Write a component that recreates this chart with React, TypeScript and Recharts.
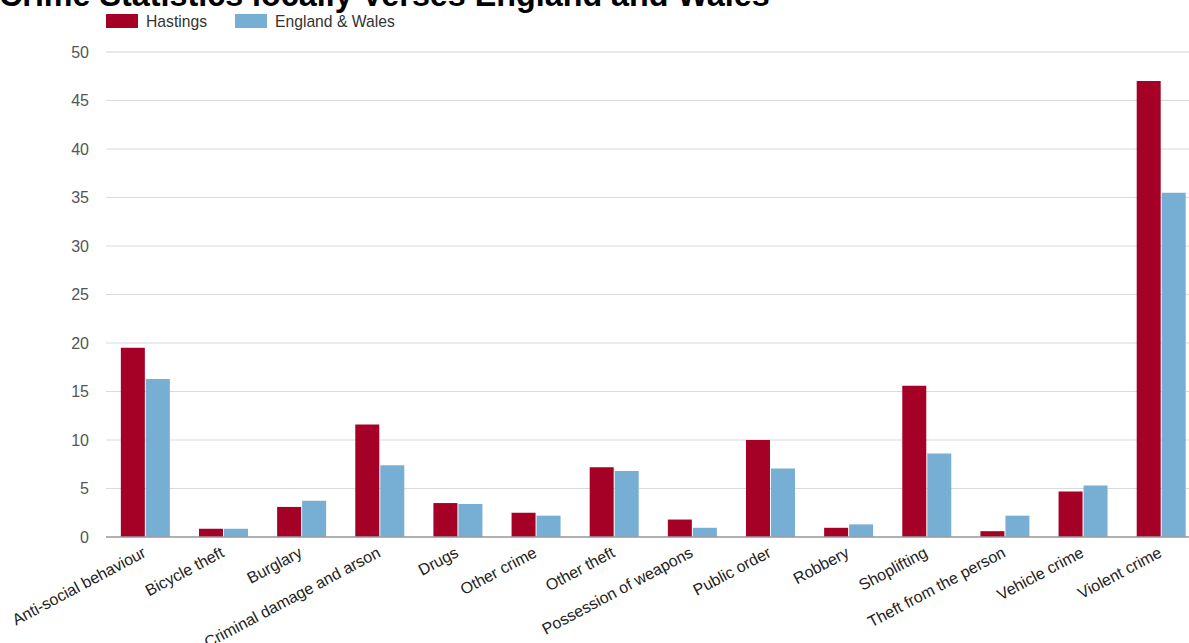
import React from 'react';
import { BarChart, Bar, XAxis, YAxis, CartesianGrid, Legend } from 'recharts';

// Crime rates per category, Hastings against the England & Wales average
const categories = [
  'Anti-social behaviour',
  'Bicycle theft',
  'Burglary',
  'Criminal damage and arson',
  'Drugs',
  'Other crime',
  'Other theft',
  'Possession of weapons',
  'Public order',
  'Robbery',
  'Shoplifting',
  'Theft from the person',
  'Vehicle crime',
  'Violent crime',
];
const hastings = [19.5, 0.85, 3.1, 11.6, 3.5, 2.5, 7.2, 1.8, 10.0, 0.95, 15.6, 0.6, 4.7, 47.0];
const englandWales = [16.3, 0.85, 3.75, 7.4, 3.4, 2.2, 6.8, 0.95, 7.05, 1.3, 8.6, 2.2, 5.3, 35.5];

const seriesNames = ['Hastings', 'England & Wales'];
const majorTicks = [0, 5, 10, 15, 20, 25, 30, 35, 40, 45, 50];
const minorTicks = [2.5, 7.5, 12.5, 17.5, 22.5, 27.5, 32.5, 37.5, 42.5, 47.5];

const title = 'Crime Statistics locally Verses England and Wales';
const FONT = "'Liberation Sans', Arial, sans-serif";

const data = categories.map((category, i) => ({
  category,
  hastings: hastings[i],
  englandWales: englandWales[i],
}));

// Slanted category labels, right end pinned just under each category
const CategoryTick = (props: any) => {
  const { x, y, payload } = props;
  const ax = x + 2;
  const ay = y + 19;
  return (
    <text
      x={ax}
      y={ay}
      transform={`rotate(-28, ${ax}, ${ay})`}
      textAnchor="end"
      fontSize={16}
      fontFamily={FONT}
      fill="#222"
    >
      {payload.value}
    </text>
  );
};

const legendX = [106, 235];

const LegendContent = (props: any) => {
  const { payload = [] } = props;
  const items = [...payload].sort(
    (a: any, b: any) => seriesNames.indexOf(a.value) - seriesNames.indexOf(b.value)
  );
  return (
    <svg width={420} height={40} style={{ display: 'block' }}>
      {items.map((p: any, i: number) => (
        <g key={p.value}>
          <rect x={legendX[i]} y={14} width={32} height={14} fill={p.color} />
          <text x={legendX[i] + 40} y={27} fontSize={15.7} fontFamily={FONT} fill="#333">
            {p.value}
          </text>
        </g>
      ))}
    </svg>
  );
};

export default function App() {
  return (
    <div
      style={{
        position: 'fixed',
        left: 0,
        top: 0,
        width: 1189,
        height: 643,
        overflow: 'hidden',
        background: '#fff',
      }}
    >
      <BarChart
        width={1200}
        height={643}
        data={data}
        margin={{ top: 52, right: 0, bottom: 0, left: 0 }}
        barCategoryGap="19%"
        barGap={1}
        style={{ position: 'absolute', left: 0, top: 0 }}
      >
        <CartesianGrid yAxisId="minor" vertical={false} stroke="#f1f1f1" />
        <CartesianGrid yAxisId="v" vertical={false} stroke="#dadada" />
        <XAxis
          dataKey="category"
          yAxisId="v"
          interval={0}
          height={106}
          tickLine={false}
          tickSize={0}
          tickMargin={0}
          axisLine={{ stroke: '#9c9c9c', strokeWidth: 1.5 }}
          tick={<CategoryTick />}
        />
        <YAxis
          yAxisId="v"
          domain={[0, 50]}
          ticks={majorTicks}
          axisLine={false}
          tickLine={false}
          tickSize={0}
          tickMargin={17}
          width={106}
          tick={{ fontSize: 16, fill: '#555', fontFamily: FONT }}
        />
        <YAxis yAxisId="minor" hide width={0} domain={[0, 50]} ticks={minorTicks} />
        <Legend
          layout="horizontal"
          verticalAlign="middle"
          align="center"
          content={<LegendContent />}
          wrapperStyle={{ top: 0, left: 0, width: 420, height: 40 }}
        />
        <Bar yAxisId="v" dataKey="hastings" name={seriesNames[0]} fill="#a50026" isAnimationActive={false} />
        <Bar yAxisId="v" dataKey="englandWales" name={seriesNames[1]} fill="#77afd4" isAnimationActive={false} />
      </BarChart>
      <svg
        width={1189}
        height={20}
        style={{ position: 'absolute', left: 0, top: 0, pointerEvents: 'none' }}
      >
        <text x={-1} y={6} fontSize={32.3} fontWeight="bold" fontFamily={FONT} fill="#000">
          {title}
        </text>
      </svg>
    </div>
  );
}
